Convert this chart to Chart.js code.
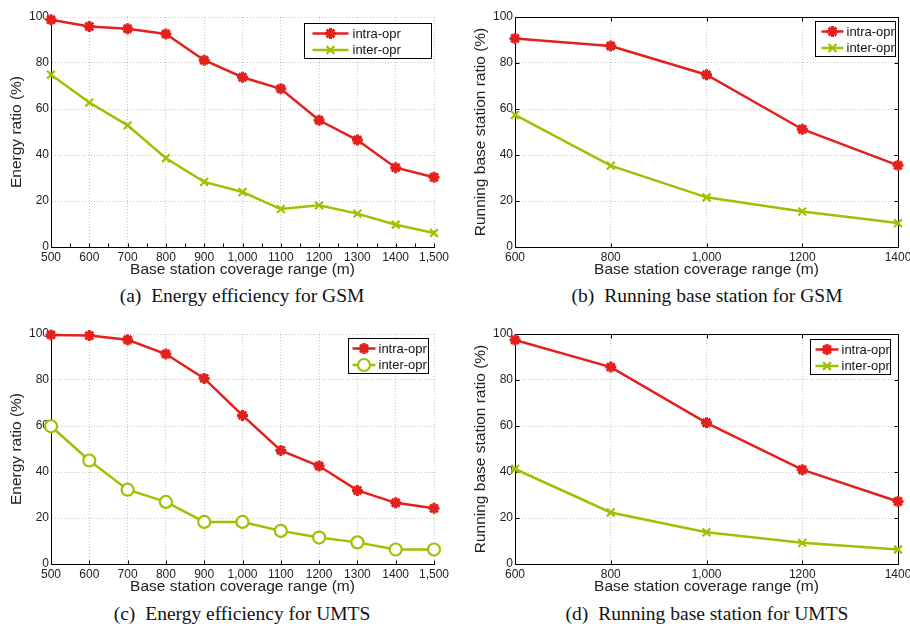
<!DOCTYPE html>
<html>
<head>
<meta charset="utf-8">
<script src="https://cdn.jsdelivr.net/npm/chart.js@4.4.1/dist/chart.umd.min.js"></script>
<style>
  body { margin: 0; background: #fff; width: 910px; height: 627px; overflow: hidden; position: relative; }
  .panel { position: absolute; width: 455px; height: 282px; }
  .panel canvas { display: block; }
  .cap { position: absolute; font-family: "Liberation Serif", "Times New Roman", serif; font-size: 19.5px;
         line-height: 20px; color: #111; white-space: nowrap; transform: translateX(-50%); }
  .cap span { margin-right: 5px; }
</style>
</head>
<body>
<div class="panel" style="left:0;top:0"><canvas id="chartA" width="455" height="282"></canvas></div>
<div class="panel" style="left:455px;top:0"><canvas id="chartB" width="455" height="282"></canvas></div>
<div class="panel" style="left:0;top:317px"><canvas id="chartC" width="455" height="282"></canvas></div>
<div class="panel" style="left:455px;top:317px"><canvas id="chartD" width="455" height="282"></canvas></div>

<div class="cap" style="left:242px;top:286px"><span>(a)</span> Energy efficiency for GSM</div>
<div class="cap" style="left:707px;top:286px"><span>(b)</span> Running base station for GSM</div>
<div class="cap" style="left:242px;top:604px"><span>(c)</span> Energy efficiency for UMTS</div>
<div class="cap" style="left:707px;top:604px"><span>(d)</span> Running base station for UMTS</div>

<script>
// data
const seriesNames = ["intra-opr", "inter-opr"];

const energyRange = [500, 600, 700, 800, 900, 1000, 1100, 1200, 1300, 1400, 1500];
const energyTickLabels = ["500", "600", "700", "800", "900", "1,000", "1100", "1200", "1300", "1400", "1,500"];
const runRange = [600, 800, 1000, 1200, 1400];
const runTickLabels = ["600", "800", "1,000", "1200", "1400"];
const yTicks = [0, 20, 40, 60, 80, 100];

const gsmEnergyIntra = [98.8, 95.9, 94.9, 92.6, 81.2, 73.8, 68.8, 55.1, 46.5, 34.5, 30.3];
const gsmEnergyInter = [74.9, 62.8, 52.9, 38.6, 28.3, 23.9, 16.5, 18.1, 14.5, 9.7, 6.1];
const gsmRunIntra = [90.7, 87.4, 74.9, 51.2, 35.5];
const gsmRunInter = [57.4, 35.4, 21.6, 15.4, 10.4];
const umtsEnergyIntra = [99.6, 99.3, 97.5, 91.3, 80.7, 64.6, 49.4, 42.6, 32.0, 26.6, 24.2];
const umtsEnergyInter = [59.9, 45.0, 32.3, 27.0, 18.3, 18.3, 14.4, 11.5, 9.4, 6.3, 6.3];
const umtsRunIntra = [97.4, 85.6, 61.4, 41.0, 27.2];
const umtsRunInter = [41.3, 22.4, 13.8, 9.2, 6.3];

const RED = "#e4201d";
const GREEN = "#9bc303";
const SANS = "'Liberation Sans', Arial, Helvetica, sans-serif";

// matlab look: legend box inside the plot, frame and inward tick marks
const innerLegend = {
  id: "innerLegend",
  beforeDatasetsDraw(chart, args, o) {
    const {ctx, chartArea: a, scales} = chart;
    const L = Math.round(a.left) + 0.5, R = Math.round(a.right) + 0.5;
    const T = Math.round(a.top) + 0.5, B = Math.round(a.bottom) + 0.5;
    ctx.save();
    ctx.strokeStyle = "#000";
    ctx.lineWidth = 1;
    if (o.frame) ctx.strokeRect(L, T, R - L, B - T);
    ctx.beginPath();
    // inward ticks on x axis
    for (let v = scales.x.min; v <= scales.x.max + 0.001; v += o.tickStep) {
      const px = Math.round(scales.x.getPixelForValue(v)) + 0.5;
      ctx.moveTo(px, B); ctx.lineTo(px, B - 4);
      if (o.frame) { ctx.moveTo(px, T); ctx.lineTo(px, T + 4); }
    }
    if (o.frame) {
      yTicks.forEach(v => {
        const py = Math.round(scales.y.getPixelForValue(v)) + 0.5;
        ctx.moveTo(L, py); ctx.lineTo(L + 4, py);
        ctx.moveTo(R, py); ctx.lineTo(R - 4, py);
      });
    }
    ctx.stroke();
    ctx.restore();
  },
  afterDraw(chart, args, o) {
    const {ctx, chartArea: a} = chart;
    const lg = o.legend;
    const bx = Math.round(a.right - lg.right - lg.width) + 0.5;
    const by = Math.round(a.top + lg.top) + 0.5;
    ctx.save();
    ctx.fillStyle = "#fff";
    ctx.fillRect(bx, by, lg.width, lg.height);
    ctx.strokeStyle = "#000";
    ctx.lineWidth = 1;
    ctx.strokeRect(bx, by, lg.width, lg.height);
    ctx.beginPath();
    ctx.rect(bx, by, lg.width, lg.height);
    ctx.clip();
    chart.data.datasets.forEach((ds, i) => {
      const cy = by + 10 + i * 16.5;
      ctx.strokeStyle = ds.borderColor;
      ctx.lineWidth = ds.borderWidth;
      ctx.beginPath();
      ctx.moveTo(bx + lg.lineX, cy);
      ctx.lineTo(bx + lg.lineX + lg.lineLen, cy);
      ctx.stroke();
      ctx.fillStyle = ds.pointBackgroundColor;
      ctx.strokeStyle = ds.pointBorderColor;
      ctx.lineWidth = ds.pointBorderWidth;
      Chart.helpers.drawPoint(ctx, {pointStyle: ds.pointStyle, radius: ds.pointRadius, borderWidth: ds.pointBorderWidth, rotation: 0},
        bx + lg.lineX + lg.lineLen / 2, cy);
      ctx.fillStyle = "#111";
      ctx.font = "13px " + SANS;
      ctx.textBaseline = "middle";
      ctx.textAlign = "left";
      ctx.fillText(ds.label, bx + lg.textX, cy + 0.5);
    });
    ctx.restore();
  }
};

function makeSeries(xs, ys) {
  return xs.map((x, i) => ({x: x, y: ys[i]}));
}

function makeChart(id, xs, tickLabels, intra, inter, yTitle, opts) {
  const intraSet = {
    label: seriesNames[0], data: makeSeries(xs, intra),
    borderColor: RED, borderWidth: 2.5, pointStyle: "star", pointRadius: 5.5,
    pointBorderWidth: 3, pointBorderColor: RED, pointBackgroundColor: RED, clip: false
  };
  const interSet = {
    label: seriesNames[1], data: makeSeries(xs, inter),
    borderColor: GREEN, borderWidth: 2.5, clip: false,
    pointStyle: opts.circle ? "circle" : "crossRot",
    pointRadius: opts.circle ? 6 : 5.5,
    pointBorderWidth: 2.2,
    pointBorderColor: GREEN, pointBackgroundColor: opts.circle ? "#fff" : GREEN
  };
  return new Chart(document.getElementById(id), {
    type: "line",
    data: {datasets: [intraSet, interSet]},
    options: {
      responsive: false,
      animation: false,
      events: [],
      layout: {padding: {left: 0, right: opts.padRight, top: 17, bottom: 0}},
      plugins: {
        legend: {display: false},
        tooltip: {enabled: false},
        innerLegend: {frame: opts.frame, tickStep: opts.tickStep, legend: opts.legend}
      },
      scales: {
        x: {
          type: "linear",
          min: xs[0], max: xs[xs.length - 1],
          afterFit: s => { s.height = 35; s.paddingLeft = 0; s.paddingRight = 0; },
          ticks: {
            stepSize: xs[1] - xs[0], autoSkip: false, maxRotation: 0, padding: 3,
            color: "#222", font: {family: SANS, size: 12},
            callback: v => { const k = xs.indexOf(v); return k < 0 ? "" : tickLabels[k]; }
          },
          grid: {color: "rgba(0,0,0,0.22)", drawTicks: false},
          border: {color: "#000", width: 1, dash: [1, 2]},
          title: {display: true, text: "Base station coverage range (m)", color: "#222",
                  font: {family: SANS, size: 15.5}, padding: {top: 0, bottom: 2.5}}
        },
        y: {
          min: 0, max: 100,
          afterFit: s => { s.width = opts.yWidth; s.paddingTop = 0; s.paddingBottom = 0; },
          afterBuildTicks: s => { s.ticks = yTicks.map(v => ({value: v})); },
          ticks: {padding: 2, color: "#222", font: {family: SANS, size: 12}},
          grid: {color: "rgba(0,0,0,0.22)", drawTicks: false},
          border: {color: "#000", width: 1, dash: [1, 2]},
          title: {display: true, text: yTitle, color: "#222",
                  font: {family: SANS, size: 15.5}, padding: {top: opts.yTitlePad, bottom: 0}}
        }
      }
    },
    plugins: [innerLegend]
  });
}

makeChart("chartA", energyRange, energyTickLabels, gsmEnergyIntra, gsmEnergyInter, "Energy ratio (%)",
  {padRight: 21, yWidth: 51, yTitlePad: 7.7, circle: false, frame: false, tickStep: 50,
   legend: {right: 3, top: 6, width: 127, height: 35, lineX: 8, lineLen: 36, textX: 48}});

makeChart("chartB", runRange, runTickLabels, gsmRunIntra, gsmRunInter, "Running base station ratio (%)",
  {padRight: 12, yWidth: 60, yTitlePad: 16.2, circle: false, frame: true, tickStep: 200,
   legend: {right: 3, top: 4, width: 80, height: 35, lineX: 6, lineLen: 22, textX: 31}});

makeChart("chartC", energyRange, energyTickLabels, umtsEnergyIntra, umtsEnergyInter, "Energy ratio (%)",
  {padRight: 21, yWidth: 51, yTitlePad: 7.7, circle: true, frame: false, tickStep: 100,
   legend: {right: 6, top: 4, width: 80, height: 35, lineX: 4, lineLen: 23, textX: 30}});

makeChart("chartD", runRange, runTickLabels, umtsRunIntra, umtsRunInter, "Running base station ratio (%)",
  {padRight: 12, yWidth: 60, yTitlePad: 16.2, circle: false, frame: true, tickStep: 200,
   legend: {right: 8, top: 5, width: 80, height: 35, lineX: 5, lineLen: 23, textX: 31}});
</script>
</body>
</html>
